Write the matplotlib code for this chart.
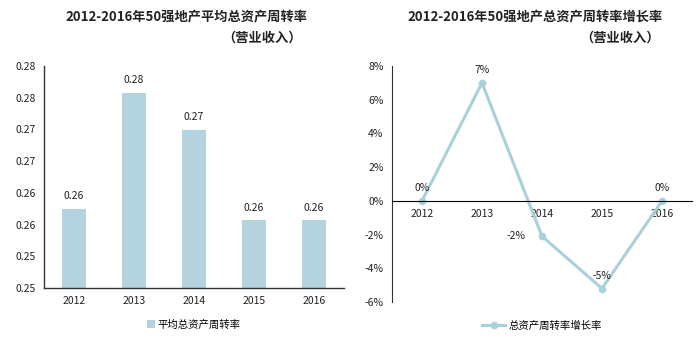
import matplotlib.pyplot as plt

plt.rcParams['font.family'] = ['Noto Sans CJK SC', 'DejaVu Sans']

years = ['2012', '2013', '2014', '2015', '2016']
turnover = [0.2625, 0.2808, 0.2749, 0.2607, 0.2607]
growth = [0.0, 0.070, -0.021, -0.052, 0.0]
turnover_ticks = [0.250, 0.255, 0.260, 0.265, 0.270, 0.275, 0.280, 0.285]
turnover_tick_labels = ['0.25', '0.25', '0.26', '0.26', '0.27', '0.27', '0.28', '0.28']
growth_ticks = [-0.06, -0.04, -0.02, 0.0, 0.02, 0.04, 0.06, 0.08]

bar_color = '#b3d3de'
line_color = '#abd0dd'
axis_color = '#333333'
text_color = '#222222'

W, H = 700, 341
fig = plt.figure(figsize=(7.0, 3.41), dpi=100)


def px_axes(x0, y0, x1, y1):
    return fig.add_axes([x0 / W, 1 - y1 / H, (x1 - x0) / W, (y1 - y0) / H])


# left: average total asset turnover bars
ax1 = px_axes(44, 66, 344, 288)
x = range(len(years))
ax1.bar(x, turnover, width=0.4, color=bar_color)
for i, v in enumerate(turnover):
    ax1.text(i, v + 0.0012, '%.2f' % v, ha='center', va='bottom', fontsize=7.5, color=text_color)
ax1.set_xlim(-0.5, len(years) - 0.5)
ax1.set_ylim(0.25, 0.285)
ax1.set_yticks(turnover_ticks)
ax1.set_yticklabels(turnover_tick_labels)
ax1.set_xticks(list(x))
ax1.set_xticklabels(years)
ax1.tick_params(length=0, labelsize=7.5, colors=text_color, pad=6)
for s in ['top', 'right']:
    ax1.spines[s].set_visible(False)
for s in ['left', 'bottom']:
    ax1.spines[s].set_color(axis_color)
    ax1.spines[s].set_linewidth(1.0)
ax1.bar([0], [0], color=bar_color, label='平均总资产周转率')
leg1 = ax1.legend(loc='upper center', bbox_to_anchor=(0.5, -0.1), frameon=False,
                  fontsize=7.5, handlelength=0.7, handleheight=0.7, handletextpad=0.3)

# right: turnover growth line
ax2 = px_axes(392, 66, 692, 302)
ax2.plot(list(x), growth, color=line_color, lw=2.2, marker='o', ms=4.5,
         label='总资产周转率增长率')
offsets = [(0, 9), (0, 9), (-12, 0), (0, 9), (0, 9)]
for i, v in enumerate(growth):
    dx, dy = offsets[i]
    ax2.annotate('%d%%' % round(v * 100), (i, v), xytext=(dx, dy), textcoords='offset points',
                 ha='right' if dx < 0 else 'center', va='center', fontsize=7.5, color=text_color)
ax2.set_xlim(-0.5, len(years) - 0.5)
ax2.set_ylim(-0.06, 0.08)
ax2.set_yticks(growth_ticks)
ax2.set_yticklabels(['%d%%' % round(t * 100) for t in growth_ticks])
ax2.set_xticks(list(x))
ax2.set_xticklabels(years)
ax2.spines['bottom'].set_position(('data', 0))
ax2.tick_params(length=0, labelsize=7.5, colors=text_color, pad=6)
for s in ['top', 'right']:
    ax2.spines[s].set_visible(False)
ax2.spines['left'].set_color(axis_color)
ax2.spines['bottom'].set_color('black')
leg2 = ax2.legend(loc='upper center', bbox_to_anchor=(0.5, -0.04), frameon=False,
                  fontsize=7.5, handlelength=2.2, handletextpad=0.3)

# titles
fig.text(186 / W, 1 - 16 / H, '2012-2016年50强地产平均总资产周转率', ha='center', va='center',
         fontsize=9.5, fontweight='bold', color=text_color)
fig.text(262 / W, 1 - 38 / H, '（营业收入）', ha='center', va='center',
         fontsize=9.5, fontweight='bold', color=text_color)
fig.text(535 / W, 1 - 16 / H, '2012-2016年50强地产总资产周转率增长率', ha='center', va='center',
         fontsize=9.5, fontweight='bold', color=text_color)
fig.text(620 / W, 1 - 38 / H, '（营业收入）', ha='center', va='center',
         fontsize=9.5, fontweight='bold', color=text_color)

fig.savefig('out.png', dpi=100)
